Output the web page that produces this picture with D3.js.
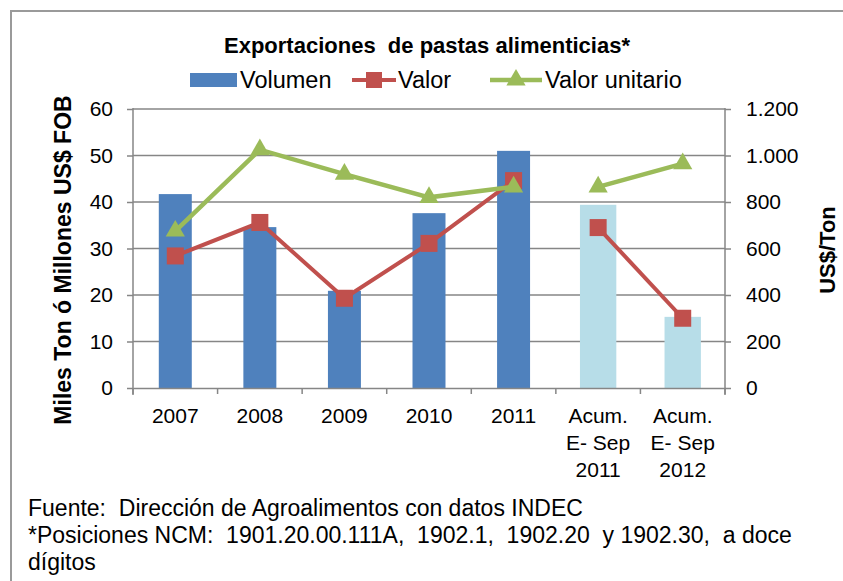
<!DOCTYPE html>
<html>
<head>
<meta charset="utf-8">
<script src="https://cdn.jsdelivr.net/npm/d3@7"></script>
<style>
  body { margin: 0; background: #fff; }
  svg { font-family: "Liberation Sans", Arial, sans-serif; }
  text { white-space: pre; }
</style>
</head>
<body>
<div id="chart"></div>
<script>
// data
var categories = [["2007"], ["2008"], ["2009"], ["2010"], ["2011"],
  ["Acum.", "E- Sep", "2011"], ["Acum.", "E- Sep", "2012"]];
var volumen = [41.7, 34.6, 20.9, 37.6, 51.0, 39.4, 15.3];
var valor = [28.4, 35.6, 19.3, 31.1, 44.6, 34.5, 15.0];
var valorUnitario = [675, 1025, 920, 820, 865, 865, 965];
var tramo = [0, 0, 0, 0, 0, 1, 1];   // the lines break between 2011 and the Acum. columns
var leftTicks = [0, 10, 20, 30, 40, 50, 60];
var rightTicks = [0, 200, 400, 600, 800, 1000, 1200];
var footer = ["Fuente:  Dirección de Agroalimentos con datos INDEC",
  "*Posiciones NCM:  1901.20.00.111A,  1902.1,  1902.20  y 1902.30,  a doce",
  "dígitos"];

var W = 843, H = 581;
var pLeft = 133, pRight = 725, pTop = 109, pBottom = 388;
var grey = "#868686";

var svg = d3.select("#chart").append("svg")
  .attr("width", W)
  .attr("height", H);

// outer frame (only top and left show in the picture)
svg.append("path")
  .attr("d", "M11," + H + "V11H" + W)
  .attr("fill", "none")
  .attr("stroke", "#9a9a9a")
  .attr("stroke-width", 2);

var x = d3.scaleBand().domain(d3.range(categories.length)).range([pLeft, pRight]);
var y = d3.scaleLinear().domain([0, 60]).range([pBottom, pTop]);
var y2 = d3.scaleLinear().domain([0, 1200]).range([pBottom, pTop]);

// grid
svg.append("g").selectAll("line")
  .data(leftTicks.slice(1))
  .enter().append("line")
  .attr("x1", pLeft).attr("x2", pRight)
  .attr("y1", function(d) { return y(d); })
  .attr("y2", function(d) { return y(d); })
  .attr("stroke", grey)
  .attr("stroke-width", 1.5);

// bars
svg.append("g").selectAll("rect")
  .data(volumen)
  .enter().append("rect")
  .attr("x", function(d, i) {
    var w = tramo[i] ? 0.43 : 0.39;
    return x(i) + x.bandwidth() * (1 - w) / 2;
  })
  .attr("width", function(d, i) { return x.bandwidth() * (tramo[i] ? 0.43 : 0.39); })
  .attr("y", function(d) { return y(d); })
  .attr("height", function(d) { return pBottom - y(d); })
  .attr("fill", function(d, i) { return tramo[i] ? "#B7DDE8" : "#4F81BD"; });

// axes
var axisLeft = d3.axisLeft(y).tickValues(leftTicks).tickSize(6).tickPadding(14);
var axisRight = d3.axisRight(y2).tickValues(rightTicks).tickSize(6).tickPadding(15)
  .tickFormat(function(d) { return d3.format(",")(d).replace(/,/g, "."); });
var axisBottom = d3.axisBottom(x).tickValues([]).tickSize(0);

var gl = svg.append("g").attr("transform", "translate(" + pLeft + ",0)").call(axisLeft);
var gr = svg.append("g").attr("transform", "translate(" + pRight + ",0)").call(axisRight);
var gb = svg.append("g").attr("transform", "translate(0," + pBottom + ")").call(axisBottom);

[gl, gr, gb].forEach(function(g) {
  g.select(".domain").attr("stroke", grey).attr("stroke-width", 1.5);
  g.selectAll(".tick line").attr("stroke", grey).attr("stroke-width", 1.5);
  g.selectAll("text").attr("font-size", 21).attr("fill", "#000")
    .attr("font-family", "Liberation Sans, Arial, sans-serif");
});
gl.select(".domain").attr("d", "M0," + (pTop - 1) + "V" + (pBottom + 7));
gr.select(".domain").attr("d", "M0," + (pTop - 1) + "V" + (pBottom + 7));

// category ticks between bands
svg.append("g").selectAll("line")
  .data(d3.range(categories.length + 1))
  .enter().append("line")
  .attr("x1", function(d) { return pLeft + d * x.bandwidth(); })
  .attr("x2", function(d) { return pLeft + d * x.bandwidth(); })
  .attr("y1", pBottom).attr("y2", pBottom + 6)
  .attr("stroke", grey)
  .attr("stroke-width", 1.5);

// category labels
var cat = svg.append("g").selectAll("text")
  .data(categories)
  .enter().append("text")
  .attr("x", function(d, i) { return x(i) + x.bandwidth() / 2; })
  .attr("y", 423)
  .attr("text-anchor", "middle")
  .attr("font-size", 21);
cat.selectAll("tspan")
  .data(function(d) { return d; })
  .enter().append("tspan")
  .attr("x", function() { return d3.select(this.parentNode).attr("x"); })
  .attr("dy", function(d, j) { return j ? 27 : 0; })
  .text(function(d) { return d; });

// lines
var lineL = d3.line()
  .x(function(d) { return x(d.i) + x.bandwidth() / 2; })
  .y(function(d) { return y(d.v); });
var lineR = d3.line()
  .x(function(d) { return x(d.i) + x.bandwidth() / 2; })
  .y(function(d) { return y2(d.v); });

function tramos(values) {
  var out = [[], []];
  values.forEach(function(v, i) { out[tramo[i]].push({ i: i, v: v }); });
  return out;
}

svg.append("g").selectAll("path")
  .data(tramos(valor))
  .enter().append("path")
  .attr("d", lineL)
  .attr("fill", "none")
  .attr("stroke", "#C0504D")
  .attr("stroke-width", 4);

svg.append("g").selectAll("rect")
  .data(valor)
  .enter().append("rect")
  .attr("x", function(d, i) { return x(i) + x.bandwidth() / 2 - 8.5; })
  .attr("y", function(d) { return y(d) - 8.5; })
  .attr("width", 17).attr("height", 17)
  .attr("fill", "#C0504D");

svg.append("g").selectAll("path")
  .data(tramos(valorUnitario))
  .enter().append("path")
  .attr("d", lineR)
  .attr("fill", "none")
  .attr("stroke", "#9BBB59")
  .attr("stroke-width", 4.5);

var tri = d3.symbol().type(d3.symbolTriangle).size(160);
svg.append("g").selectAll("path")
  .data(valorUnitario)
  .enter().append("path")
  .attr("d", tri)
  .attr("transform", function(d, i) {
    return "translate(" + (x(i) + x.bandwidth() / 2) + "," + y2(d) + ")";
  })
  .attr("fill", "#9BBB59");

// title
svg.append("text")
  .attr("x", 427).attr("y", 53)
  .attr("text-anchor", "middle")
  .attr("font-size", 22)
  .attr("font-weight", "bold")
  .text("Exportaciones  de pastas alimenticias*");

// legend
var lg = svg.append("g").attr("font-size", 23.5);
lg.append("rect").attr("x", 190).attr("y", 73).attr("width", 47).attr("height", 14).attr("fill", "#4F81BD");
lg.append("text").attr("x", 240).attr("y", 88).text("Volumen");
lg.append("line").attr("x1", 352).attr("x2", 396).attr("y1", 80).attr("y2", 80)
  .attr("stroke", "#C0504D").attr("stroke-width", 4);
lg.append("rect").attr("x", 366).attr("y", 72).attr("width", 16).attr("height", 16).attr("fill", "#C0504D");
lg.append("text").attr("x", 398).attr("y", 88).text("Valor");
lg.append("line").attr("x1", 490).attr("x2", 542).attr("y1", 80).attr("y2", 80)
  .attr("stroke", "#9BBB59").attr("stroke-width", 4.5);
lg.append("path").attr("d", tri).attr("transform", "translate(516,80)").attr("fill", "#9BBB59");
lg.append("text").attr("x", 545).attr("y", 88).text("Valor unitario");

// axis titles
svg.append("text")
  .attr("transform", "translate(71,260) rotate(-90)")
  .attr("text-anchor", "middle")
  .attr("font-size", 23)
  .attr("font-weight", "bold")
  .text("Miles Ton ó Millones US$ FOB");
svg.append("text")
  .attr("transform", "translate(835,250) rotate(-90)")
  .attr("text-anchor", "middle")
  .attr("font-size", 22)
  .attr("font-weight", "bold")
  .text("US$/Ton");

// footer
svg.append("g").selectAll("text")
  .data(footer)
  .enter().append("text")
  .attr("x", 28)
  .attr("y", function(d, i) { return 516 + i * 27; })
  .attr("font-size", 23)
  .text(function(d) { return d; });
</script>
</body>
</html>
